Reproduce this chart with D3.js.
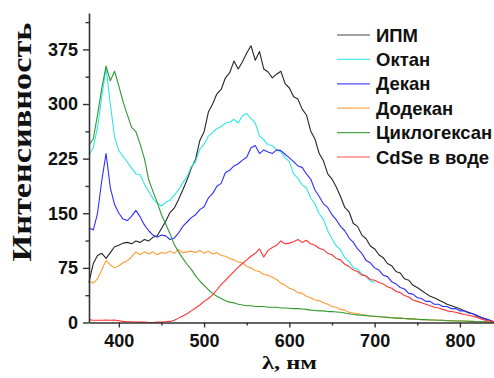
<!DOCTYPE html>
<html><head><meta charset="utf-8">
<script src="https://cdn.jsdelivr.net/npm/d3@7"></script>
<style>
html,body{margin:0;padding:0;background:#fff;}
svg{display:block;}
</style></head>
<body><svg id="chart" width="494" height="378"></svg>
<script>
// ---- data ----
const lambdaStart = 365, lambdaStep = 5;
const seriesNames = ["ИПМ","Октан","Декан","Додекан","Циклогексан","CdSe в воде"];
const seriesColors = ["#262626","#2fe6e6","#2e2eff","#ff9933","#2f9a2f","#ff3333"];
const xTicks = [400,500,600,700,800];
const xMinorTicks = [450,550,650,750];
const yTicks = [0,75,150,225,300,375];
const yMinorTicks = [37.5,112.5,187.5,262.5,337.5,412.5];

const ipm = [55,81,92,95,88,96,104,106,109,110,108,112,110,114,112,117,119,129,139,151,157,169,182,196,212,224,250,262,289,300,314,320,336,343,359,348,358,370,380,360,372,348,344,336,341,345,328,322,310,307,293,285,263,252,232,222,204,197,186,173,158,152,136,132,120,115,105,101,93,89,81,78,70,68,60,58,51,48,44,40,36,34,31,28,25,23,21,19,16,14,12,9,7,5,3,1];
const oktan = [230,240,268,310,350,300,255,236,228,220,212,204,203,190,180,170,164,160,165,168,175,182,192,200,214,221,238,245,256,261,266,269,274,275,279,274,284,287,280,274,256,251,244,243,237,235,226,221,204,198,189,185,171,163,149,142,126,115,105,100,89,84,75,73,67,63,57,55];
const dekan = [130,127,150,195,232,185,162,150,142,140,146,154,145,134,126,120,117,120,119,114,116,123,132,138,144,148,155,159,171,177,187,191,206,209,215,218,223,227,240,243,232,237,234,232,237,236,231,226,221,215,213,204,197,182,173,163,158,148,141,132,126,116,110,101,95,85,82,75,72,65,63,56,53,48,46,40,39,34,33,29,29,25,25,22,22,19,19,16,16,13,12,10,7,5,3,1];
const dodekan = [57,54,60,72,85,79,75,78,82,85,90,97,93,97,94,97,93,96,95,98,95,100,96,97,98,96,99,95,98,94,96,92,91,88,86,83,82,77,75,71,70,66,65,62,59,54,51,47,45,41,40,36,34,31,30,27,25,22,21,18,17,14,13,12,11,10,9,8.5,8,7.5,7,6.5,6,6,5.5,5,5,4.5,4,4,3.5,3.5,3,3,2.5,2.5,2,2,2,1.5,1.5,1,1,1,0.5,0.5];
const cyclohexane = [244,252,285,322,352,332,345,325,303,285,268,262,245,225,196,180,165,148,135,122,107,97,88,80,73,64,57,51,45,40,36,33,30,28,27,25,24,23,23,22,22,22,21,21,21,20,20,19.5,19,19,18.5,18,17,16.5,16,16,15,15,14.5,14,13,12,11,10.5,10,9.5,9,8.5,8,7.5,7,6.5,6,6,5.5,5,5,4.5,4,4,3.5,3.5,3,3,2.5,2.5,2,2,2,1.5,1.5,1,1,1,0.5,0.5];
const cdse = [4,3,3,3,3.5,3,3.5,2.5,1.5,1,1,0.5,0.5,0.5,0,0,0.5,0.5,1,1.5,3,6,9,12,16,20,24,29,33,38,45,52,58,64,70,76,81,86,91,95,101,90,99,103,106,112,108,109,111,114,110,113,108,106,102,100,95,93,88,86,80,77,72,70,65,64,59,58,55,53,49,47,43,41,37,35,31,29,27,25,23,21,20,18,16,15,14,12.5,11,10,8.5,7,5,3,2,0.5];

const seriesValues = [ipm, oktan, dekan, dodekan, cyclohexane, cdse];

// ---- chart ----
const svg = d3.select("#chart");
const x = d3.scaleLinear().domain([365, 840]).range([89, 494]);
const y = d3.scaleLinear().domain([0, 425]).range([322.5, 13]);

const line = d3.line()
  .x((d,i) => x(lambdaStart + i*lambdaStep))
  .y(d => y(d));

const plot = svg.append("g");
seriesValues.forEach((vals, k) => {
  plot.append("path")
    .datum(vals)
    .attr("fill","none")
    .attr("stroke", seriesColors[k])
    .attr("stroke-width", 1.1)
    .attr("stroke-linejoin","round")
    .attr("d", line);
});

const tickFont = "'Liberation Sans', Arial, sans-serif";

// X axis
svg.append("g").attr("transform","translate(0,322.5)")
  .call(d3.axisBottom(x).tickValues(xTicks).tickSize(5).tickSizeOuter(0).tickPadding(7).tickFormat(d3.format("d")));
svg.append("g").attr("transform","translate(0,322.5)")
  .call(d3.axisBottom(x).tickValues(xMinorTicks).tickSize(3).tickSizeOuter(0).tickFormat(""))
  .select(".domain").remove();

// Y axis
svg.append("g").attr("transform","translate(89,0)")
  .call(d3.axisLeft(y).tickValues(yTicks).tickSize(6).tickSizeOuter(0).tickPadding(5).tickFormat(d3.format("d")));
svg.append("g").attr("transform","translate(89,0)")
  .call(d3.axisLeft(y).tickValues(yMinorTicks).tickSize(3.5).tickSizeOuter(0).tickFormat(""))
  .select(".domain").remove();

svg.selectAll(".domain").attr("stroke","#333").attr("stroke-width",1.6);
svg.selectAll(".tick line").attr("stroke","#333").attr("stroke-width",1.4);
svg.selectAll(".tick text")
  .attr("fill","#111")
  .style("font-family", tickFont)
  .style("font-weight","bold")
  .style("font-size","18px");

// Axis titles
svg.append("text")
  .attr("transform","translate(31,142) rotate(-90)")
  .attr("text-anchor","middle")
  .attr("textLength",239)
  .attr("lengthAdjust","spacingAndGlyphs")
  .style("font-family","'Liberation Serif','Times New Roman',serif")
  .style("font-weight","bold")
  .style("font-size","27px")
  .attr("fill","#111")
  .text("Интенсивность");

svg.append("text")
  .attr("x", 262).attr("y", 369)
  .attr("textLength",55)
  .attr("lengthAdjust","spacingAndGlyphs")
  .style("font-family","'Liberation Serif','Times New Roman',serif")
  .style("font-weight","bold")
  .style("font-size","18px")
  .attr("fill","#111")
  .text("λ, нм");

// Legend
const legend = svg.append("g");
seriesNames.forEach((name, k) => {
  const cy = 35 + k*24.4;
  legend.append("line")
    .attr("x1",337).attr("x2",370).attr("y1",cy).attr("y2",cy)
    .attr("stroke", seriesColors[k]).attr("stroke-width",1.2).attr("opacity",0.85);
  legend.append("text")
    .attr("x",376).attr("y",cy+6.5)
    .style("font-family", tickFont)
    .style("font-weight","bold")
    .style("font-size","18.5px")
    .attr("fill","#111")
    .text(name);
});
</script>
</body></html>
